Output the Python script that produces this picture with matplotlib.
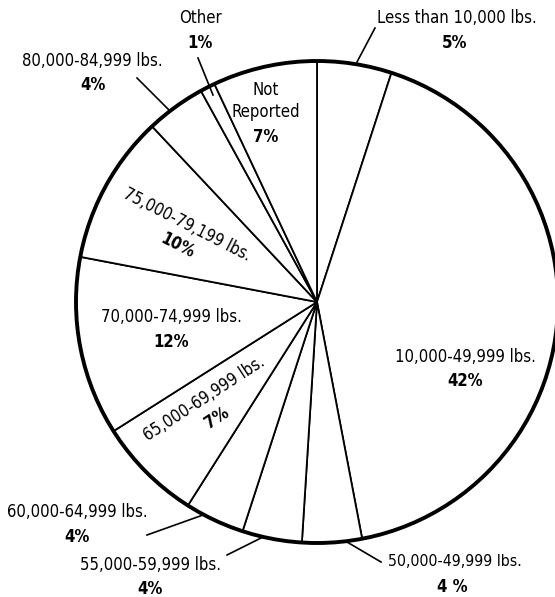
import matplotlib
matplotlib.use("Agg")
import matplotlib.pyplot as plt
from matplotlib.patches import Circle

categories = ["Less than 10,000 lbs.", "10,000-49,999 lbs.", "50,000-49,999 lbs.",
              "55,000-59,999 lbs.", "60,000-64,999 lbs.", "65,000-69,999 lbs.",
              "70,000-74,999 lbs.", "75,000-79,199 lbs.", "80,000-84,999 lbs.",
              "Other", "Not\nReported"]
shares = [5, 42, 4, 4, 4, 7, 12, 10, 4, 1, 7]
pct_labels = ["5%", "42%", "4 %", "4%", "4%", "7%", "12%", "10%", "4%", "1%", "7%"]

W, H = 555, 597
fig = plt.figure(figsize=(W / 100, H / 100), dpi=100)
ax = fig.add_axes([0, 0, 1, 1])
FAM = ["DejaVu Sans"]

cx, cy, R = 317, 302, 241
ax.pie(shares, startangle=90, counterclock=False, center=(cx, H - cy), radius=R,
       wedgeprops=dict(edgecolor="black", linewidth=1.3, facecolor="white"))
ax.add_patch(Circle((cx, H - cy), R, fill=False, edgecolor="black", linewidth=2.8, zorder=5))
ax.set_xlim(0, W)
ax.set_ylim(0, H)
ax.set_aspect("equal")
ax.axis("off")

# label layout: (name xy, pct xy, rotation, fontsize) in pixel coords (y down)
layout = [
    ((457, 18), (455, 43), 0, 12),
    ((465, 357), (465, 381), 0, 12),
    ((455, 562), (452, 587), 0, 11.3),
    ((150, 565), (150, 589), 0, 12),
    ((77, 512), (77, 537), 0, 12),
    ((204, 399), (217, 418), 33, 12),
    ((171, 317), (171, 342), 0, 12),
    ((187, 225), (178, 246), -27, 12),
    ((92, 61), (93, 85), 0, 12),
    ((200, 18), (200, 43), 0, 12),
    ((266, 101), (266, 137), 0, 12),
]
for name, pct, (nxy, pxy, rot, fs) in zip(categories, pct_labels, layout):
    ax.text(nxy[0], H - nxy[1], name, ha="center", va="center", rotation=rot,
            rotation_mode="anchor", family=FAM, fontsize=fs, fontstretch="condensed",
            linespacing=1.35, zorder=6)
    ax.text(pxy[0], H - pxy[1], pct, ha="center", va="center", rotation=rot,
            rotation_mode="anchor", family=FAM, fontsize=12, fontweight="bold",
            fontstretch="condensed", zorder=6)

leaders = [
    ((357, 62), (375, 28)),
    ((198, 58), (213, 95)),
    ((137, 78), (170, 111)),
    ((147, 535), (203, 515)),
    ((227, 555), (263, 537)),
    ((347, 542), (381, 562)),
]
for (x1, y1), (x2, y2) in leaders:
    ax.plot([x1, x2], [H - y1, H - y2], color="black", linewidth=1.2, zorder=6)

fig.savefig("out.png", dpi=100, facecolor="white")
